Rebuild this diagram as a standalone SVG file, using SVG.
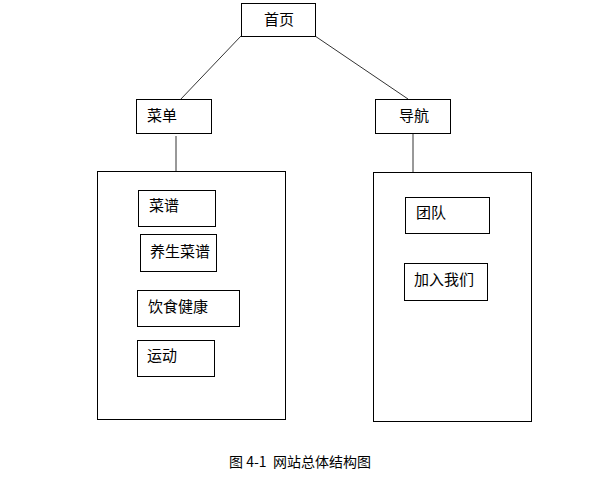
<svg xmlns="http://www.w3.org/2000/svg" width="609" height="479" viewBox="0 0 609 479">
<style>
rect{fill:#fff;stroke:#000;stroke-width:1}
text{font-family:"Noto Sans CJK SC","Liberation Sans",sans-serif;font-size:15px;fill:#000}
.c{stroke:#333;stroke-width:1;fill:none}
</style>
<rect x="0" y="0" width="609" height="479" style="stroke:none"/>
<g id="connectors">
<line class="c" x1="241" y1="36" x2="180" y2="100"/>
<line class="c" x1="315" y1="36" x2="408" y2="99"/>
<line class="c" x1="176" y1="136" x2="176" y2="171"/>
<line class="c" x1="413" y1="134" x2="413" y2="172"/>
</g>
<g id="home"><rect x="241.5" y="3.5" width="74" height="33"/><text x="264" y="25">首页</text></g>
<g id="menu"><rect x="136.5" y="99.5" width="75" height="34"/><text x="147" y="121">菜单</text></g>
<g id="nav"><rect x="375.5" y="99.5" width="75" height="34"/><text x="399" y="121">导航</text></g>
<g id="menuBox"><rect x="97.5" y="171.5" width="188" height="248"/></g>
<g id="navBox"><rect x="373.5" y="172.5" width="158" height="249"/></g>
<g id="recipes"><rect x="138.5" y="190.5" width="77" height="36"/><text x="149" y="211">菜谱</text></g>
<g id="health-recipes"><rect x="140.5" y="234.5" width="76" height="37"/><text x="150" y="257">养生菜谱</text></g>
<g id="diet"><rect x="137.5" y="290.5" width="102" height="36"/><text x="148" y="312">饮食健康</text></g>
<g id="sport"><rect x="137.5" y="340.5" width="77" height="36"/><text x="147" y="361">运动</text></g>
<g id="team"><rect x="405.5" y="197.5" width="84" height="36"/><text x="416" y="218">团队</text></g>
<g id="join"><rect x="404.5" y="263.5" width="83" height="37"/><text x="414" y="285">加入我们</text></g>
<text x="300" y="467" text-anchor="middle" style="font-size:14px" xml:space="preserve">图 4-1  网站总体结构图</text>
</svg>
